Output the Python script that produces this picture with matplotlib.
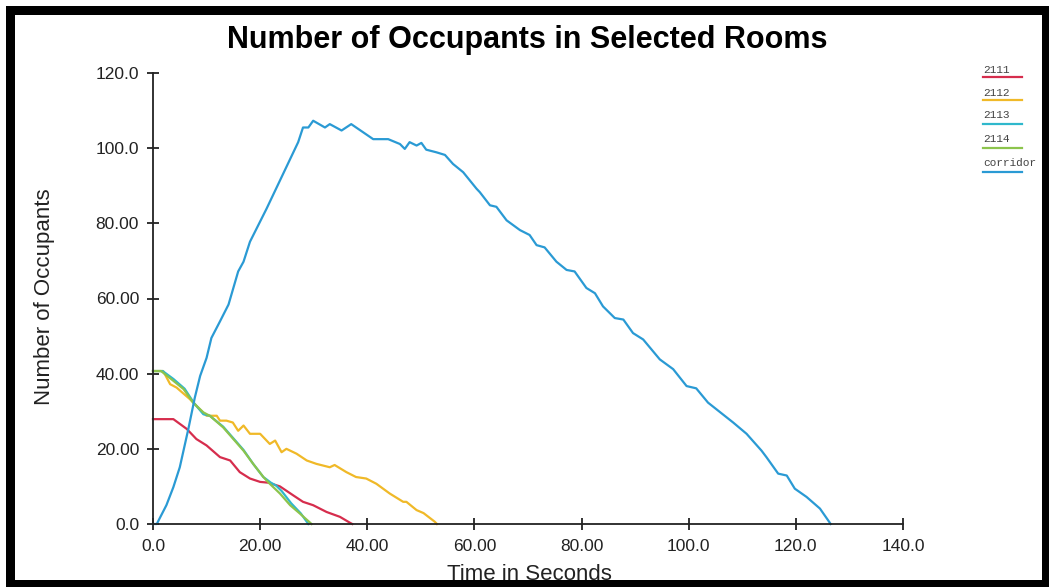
import matplotlib
matplotlib.use("Agg")
import matplotlib.pyplot as plt
from matplotlib.patches import Rectangle
from matplotlib.lines import Line2D

# ---- data ----
series_names = ["2111", "2112", "2113", "2114", "corridor"]
series_colors = ["#d62d4d", "#f0b928", "#2fb8cc", "#8cc44c", "#2a9ad4"]

t_2111 = [0, 3.8, 6.3, 8.1, 10.0, 12.5, 14.4, 16.2, 18.1, 20.0, 21.5, 23.7, 26.2, 28.0,
          29.9, 32.4, 34.9, 36.8, 37.2]
v_2111 = [27.9, 27.9, 25.3, 22.6, 20.9, 17.8, 16.9, 13.8, 12.1, 11.2, 11.0, 10.0, 7.6, 5.9,
          5.0, 3.2, 1.9, 0.3, 0]

t_2112 = [0, 1.9, 3.2, 4.4, 6.9, 8.5, 10.0, 11.9, 12.5, 13.7, 14.9, 15.9, 16.9, 18.1, 20.0,
          21.8, 22.8, 24.0, 24.9, 26.8, 28.7, 30.5, 33.0, 33.9, 36.1, 37.9, 39.8, 41.7, 44.2,
          46.7, 47.3, 49.2, 50.5, 52.6, 53.0]
v_2112 = [40.7, 40.7, 37.2, 36.3, 33.2, 30.8, 28.8, 28.8, 27.5, 27.5, 27.0, 24.8, 26.2, 24.0,
          24.0, 21.3, 22.2, 19.1, 20.0, 18.7, 16.9, 16.0, 15.1, 15.7, 13.8, 12.5, 12.1, 10.7,
          8.1, 5.9, 5.9, 3.7, 2.9, 0.6, 0]

t_2113 = [0, 1.8, 3.8, 5.9, 7.6, 9.4, 10.6, 13.1, 15.0, 16.9, 18.7, 20.6, 22.0, 23.0, 24.0,
          25.8, 27.6, 29.0]
v_2113 = [40.7, 40.7, 38.6, 36.0, 32.3, 29.2, 28.8, 25.9, 22.8, 19.7, 16.0, 12.5, 11.0, 10.2,
          8.8, 5.5, 2.8, 0]

t_2114 = [0, 1.5, 3.8, 5.7, 7.5, 9.4, 10.6, 13.1, 15.0, 16.9, 18.7, 20.6, 21.8, 23.7, 25.6,
          27.4, 29.6]
v_2114 = [40.7, 40.7, 38.1, 35.9, 32.3, 29.7, 28.8, 25.7, 22.6, 19.5, 16.0, 12.5, 10.7, 8.1,
          5.0, 2.8, 0]

t_corr = [0, 0.7, 2.5, 3.8, 5.0, 6.6, 7.8, 8.8, 10.0, 10.9, 12.5, 14.1, 15.9, 16.9, 18.1,
          21.2, 24.3, 27.1, 28.0, 29.0, 29.9, 32.1, 33.0, 35.2, 37.0, 41.1, 43.9, 46.1, 47.0,
          47.9, 49.2, 50.1, 51.0, 52.9, 54.5, 56.0, 57.9, 60.4, 61.0, 62.9, 64.1, 66.0, 68.5,
          70.3, 71.6, 73.1, 75.3, 77.2, 78.7, 80.9, 82.5, 84.0, 86.2, 87.8, 89.6, 91.5, 94.6,
          97.1, 99.6, 101.4, 103.6, 108.3, 110.8, 113.6, 114.5, 116.7, 118.3, 119.8, 122.0,
          124.5, 126.5]
v_corr = [0, 0, 5.0, 9.8, 15.1, 25.3, 33.6, 39.4, 44.2, 49.5, 53.9, 58.4, 67.2, 69.8, 75.1,
          83.9, 93.2, 101.6, 105.5, 105.5, 107.3, 105.5, 106.4, 104.7, 106.4, 102.4, 102.4,
          101.1, 99.8, 101.6, 100.7, 101.4, 99.6, 98.9, 98.2, 95.8, 93.6, 89.2, 88.3, 84.8,
          84.4, 80.8, 78.2, 76.9, 74.2, 73.6, 69.8, 67.6, 67.2, 62.8, 61.4, 57.9, 54.8, 54.4,
          50.8, 49.1, 43.8, 41.2, 36.7, 36.1, 32.3, 27.0, 24.0, 19.5, 17.8, 13.4, 12.9, 9.4,
          7.2, 4.1, 0.0]

x_ticks = [0, 20, 40, 60, 80, 100, 120, 140]
x_tick_labels = ["0.0", "20.00", "40.00", "60.00", "80.00", "100.0", "120.0", "140.0"]
y_ticks = [0, 20, 40, 60, 80, 100, 120]
y_tick_labels = ["0.0", "20.00", "40.00", "60.00", "80.00", "100.0", "120.0"]

title = "Number of Occupants in Selected Rooms"
x_label = "Time in Seconds"
y_label = "Number of Occupants"

# ---- figure ----
plt.rcParams['font.family'] = ['Liberation Sans', 'DejaVu Sans']
W, H = 1049, 587
fig = plt.figure(figsize=(W / 100, H / 100), dpi=100)
ax = fig.add_axes([153 / W, 1 - 524 / H, 750 / W, 451 / H])

all_t = [t_2111, t_2112, t_2113, t_2114, t_corr]
all_v = [v_2111, v_2112, v_2113, v_2114, v_corr]
for t, v, c, n in zip(all_t, all_v, series_colors, series_names):
    ax.plot(t, v, color=c, lw=1.6, label=n, solid_joinstyle='round', clip_on=False)

ax.set_xlim(0, 140)
ax.set_ylim(0, 120)
ax.set_xticks(x_ticks)
ax.set_xticklabels(x_tick_labels)
ax.set_yticks(y_ticks)
ax.set_yticklabels(y_tick_labels)
for s in ["top", "right"]:
    ax.spines[s].set_visible(False)
for s in ["left", "bottom"]:
    ax.spines[s].set_color("#222222")
    ax.spines[s].set_linewidth(1.3)
ax.tick_params(axis='both', direction='inout', length=8, width=1.3, color="#222222",
               labelsize=12.5, labelcolor="#222222")
ax.tick_params(axis='x', pad=7)
ax.tick_params(axis='y', pad=6)

fig.text(527 / W, 1 - 40 / H, title, ha='center', va='center', fontsize=22,
         fontweight='bold', color='black')
fig.text(45 / W, 1 - 297 / H, y_label, ha='center', va='center', rotation=90,
         fontsize=16, color='#222222')
fig.text(529 / W, 1 - 574 / H, x_label, ha='center', va='center', fontsize=16,
         color='#222222')

# legend (text above a colored line segment)
leg_text_y = [70, 92.5, 114.5, 138.5, 163]
leg_line_y = [77.5, 99.5, 124, 147.5, 171.5]
for n, c, ty, ly in zip(series_names, series_colors, leg_text_y, leg_line_y):
    fig.text(983 / W, 1 - ty / H, n, ha='left', va='center', fontsize=8,
             family='Liberation Mono', color='#444444')
    fig.add_artist(Line2D([983 / W, 1022 / W], [1 - ly / H, 1 - ly / H],
                          transform=fig.transFigure, color=c, lw=1.6))

# black frame
frame = Rectangle((9.5 / W, 1 - 583.5 / H), (1045.5 - 9.5) / W, (583.5 - 9.5) / H,
                  transform=fig.transFigure, fill=False, edgecolor='black',
                  linewidth=9 * 0.72, zorder=10)
fig.add_artist(frame)

fig.savefig("out.png", dpi=100)
